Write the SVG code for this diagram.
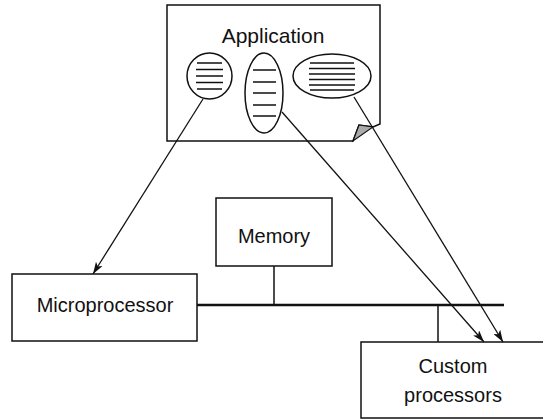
<svg xmlns="http://www.w3.org/2000/svg" width="543" height="420" viewBox="0 0 543 420">
<style>
.box{fill:#fff;stroke:#111;stroke-width:1.5}
.ln{fill:none;stroke:#111;stroke-width:1.5}
.hl{stroke:#111;stroke-width:1.5}
.bus{stroke:#111;stroke-width:2.5}
.t{font-family:"Liberation Sans",Arial,sans-serif;font-size:20px;fill:#111;text-anchor:middle}
.arr{fill:none;stroke:#111;stroke-width:1.3;marker-end:url(#ah)}
</style>
<defs>
<marker id="ah" viewBox="0 0 12 8" refX="12" refY="4" markerWidth="12" markerHeight="8" markerUnits="userSpaceOnUse" orient="auto">
<path d="M0,0 L12,4 L0,8 L3,4 Z" fill="#111"/>
</marker>
</defs>
<rect width="543" height="420" fill="#fff"/>
<g id="application">
<path class="box" d="M167,5 H380 V124 L373,127 L359,125 L353,141 H167 Z"/>
<path d="M359,125 L373,127 L353,141 Z" fill="#aaa" stroke="#111" stroke-width="1.2"/>
<text class="t" x="273" y="43" style="font-size:21px">Application</text>
<g id="task1">
<ellipse class="ln" cx="209.5" cy="76" rx="22.5" ry="23"/>
<path class="hl" d="M197,63H222M196,69.5H223M196,76H223M196,82.5H223M197,89H222"/>
</g>
<g id="task2">
<ellipse class="ln" cx="264" cy="93" rx="19" ry="40"/>
<path class="hl" d="M253,70H276M253,82H276M253,93H276M253,105H276M253,116H276"/>
</g>
<g id="task3">
<ellipse class="ln" cx="332" cy="76" rx="39" ry="22"/>
<path class="hl" d="M310,63H354M309,68.5H355M309,74H355M309,79.5H355M309,85H355M310,90H354"/>
</g>
</g>
<g id="memory">
<rect class="box" x="216" y="198" width="116" height="68"/>
<text class="t" x="274" y="243">Memory</text>
</g>
<g id="microprocessor">
<rect class="box" x="12" y="274" width="185" height="67"/>
<text class="t" x="105" y="312">Microprocessor</text>
</g>
<g id="custom">
<rect class="box" x="361" y="342" width="200" height="76"/>
<text class="t" x="453" y="373">Custom</text>
<text class="t" x="453" y="402">processors</text>
</g>
<g id="connectors">
<line class="bus" x1="197" y1="305" x2="504" y2="305"/>
<line class="hl" x1="274" y1="266" x2="274" y2="305"/>
<line class="hl" x1="438" y1="305" x2="438" y2="342"/>
<line class="arr" x1="203" y1="99" x2="93" y2="274"/>
<line class="arr" x1="282" y1="112" x2="484" y2="342"/>
<line class="arr" x1="354" y1="97" x2="503" y2="342"/>
</g>
</svg>
